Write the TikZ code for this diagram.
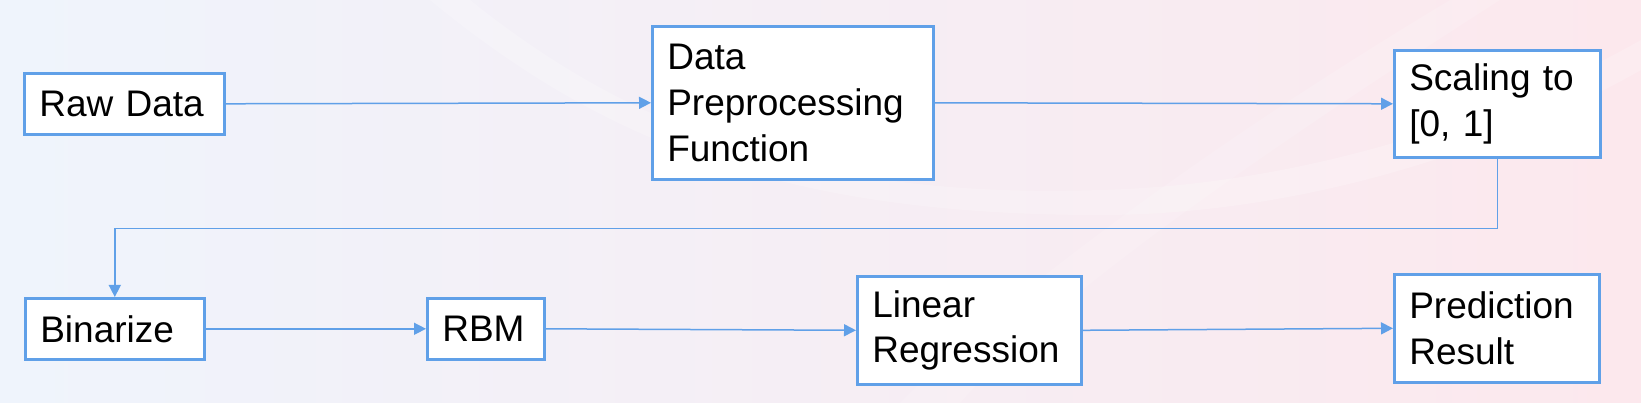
\documentclass[tikz,border=0pt]{standalone}
\usepackage{fontspec}
\setmainfont{Liberation Sans}
\usetikzlibrary{arrows.meta}
\definecolor{bblue}{RGB}{96,160,232}
\definecolor{bgl}{RGB}{239,244,252}
\definecolor{bgm}{RGB}{249,245,251}
\definecolor{bgr}{RGB}{252,232,237}
\tikzset{
  box/.style={draw=bblue, line width=2.6pt, fill=white, anchor=north west,
    inner xsep=15pt, inner ysep=0pt, align=left,
    font=\fontsize{37}{45.7}\selectfont},
  conn/.style={draw=bblue, line width=1.5pt,
    -{Triangle[length=12pt,width=12pt]}}
}
\begin{document}
\begin{tikzpicture}[x=1pt,y=-1pt]
\useasboundingbox (0,0) rectangle (1641,403);
\shade[left color=bgl, middle color=bgm, right color=bgr] (0,0) rectangle (1641,403);
% faint swooshes
\fill[white, opacity=0.2] (470,0) .. controls (620,120) and (800,200) .. (1100,190)
  .. controls (1300,185) and (1500,120) .. (1641,40) -- (1641,70)
  .. controls (1500,150) and (1300,215) .. (1100,215)
  .. controls (780,215) and (600,140) .. (430,0) -- cycle;
\fill[white, opacity=0.15] (900,403) .. controls (1000,300) and (1200,150) .. (1450,0)
  -- (1500,0) .. controls (1250,160) and (1050,300) .. (960,403) -- cycle;

\node[box, text width=170pt, minimum height=61pt] (raw) at (23,72) {Raw Data};
\node[box, text width=251pt, minimum height=153pt] (dpf) at (651,25) {Data\\Preprocessing\\Function};
\node[box, text width=176pt, minimum height=107pt] (scale) at (1393,49) {Scaling to\\{[0, 1]}};
\node[box, text width=149pt, minimum height=61pt] (bin) at (24,297) {Binarize};
\node[box, text width=87pt, minimum height=61pt] (rbm) at (426,297) {RBM};
\node[box, text width=194pt, minimum height=108pt] (lr) at (856,275) {Linear\\Regression};
\node[box, text width=175pt, minimum height=108pt] (pr) at (1393,273) {Prediction\\Result};

\draw[conn] (raw.east) -- (dpf.west);
\draw[conn] (dpf.east) -- (scale.west);
\draw[conn] (scale.south) -- ++(0,70) -| (bin.north);
\draw[conn] (bin.east) -- (rbm.west);
\draw[conn] (rbm.east) -- (lr.west);
\draw[conn] (lr.east) -- (pr.west);
\end{tikzpicture}
\end{document}
